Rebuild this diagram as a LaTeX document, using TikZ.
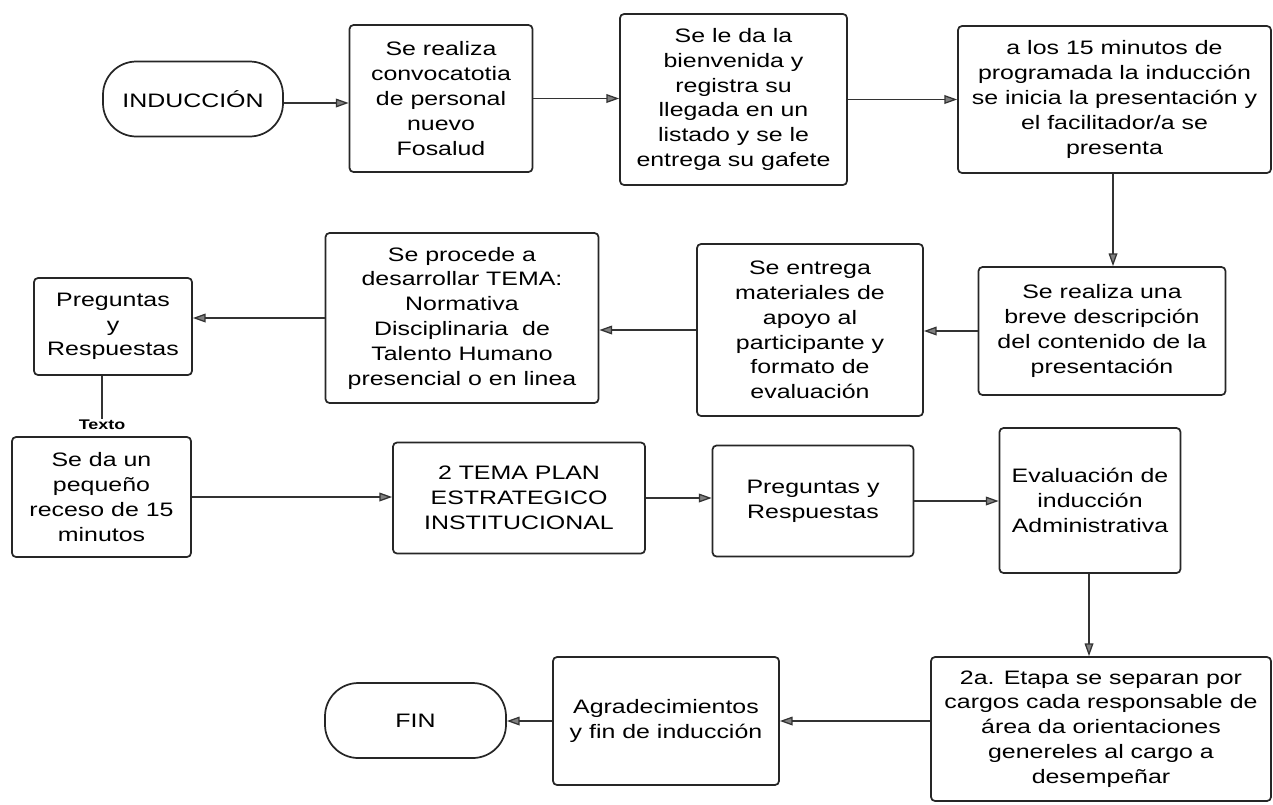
\documentclass[tikz,border=0pt]{standalone}
\usepackage{fontspec}
\setmainfont{Liberation Sans}[FakeStretch=1.28]
\usetikzlibrary{arrows.meta}

\tikzset{
  paso/.style={draw=black!85, line width=1.3pt, rounded corners=3pt, align=center, inner sep=2pt, font=\fontsize{14.6}{18.6}\selectfont},
  termino/.style={draw=black!85, line width=1.3pt, rounded corners=25pt, align=center, inner sep=2pt, font=\fontsize{14.6}{18.6}\selectfont},
  flecha/.style={draw=black!80, line width=0.95pt, -{Triangle[length=9.5pt,width=6.5pt,fill=black!50]}},
}

\begin{document}
\begin{tikzpicture}[x=0.75pt,y=0.75pt,yscale=-1]
\useasboundingbox (0,0) rectangle (1273,804);

% Row 1
\node [termino, minimum width=135pt, minimum height=56.25pt] (inicio) at (193,99) {INDUCCIÓN};
\node [paso, minimum width=137.25pt, minimum height=110.25pt] (conv) at (441,98.5) {Se realiza\\convocatotia\\de personal\\nuevo\\Fosalud};
\node [paso, minimum width=170.25pt, minimum height=128.25pt] (bienv) at (733.5,99.5) {Se le da la\\bienvenida y\\registra su\\llegada en un\\listado y se le\\entrega su gafete};
\node [paso, minimum width=234.75pt, minimum height=110.25pt] (facil) at (1114.5,99.5) {a los 15 minutos de\\programada la inducción\\se inicia la presentación y\\el facilitador/a se\\presenta};

% Row 2
\node [paso, minimum width=185.25pt, minimum height=96pt] (descr) at (1102,331) {Se realiza una\\breve descripción\\del contenido de la\\presentación};
\node [paso, minimum width=169.5pt, minimum height=129pt] (mater) at (810,330) {Se entrega\\materiales de\\apoyo al\\participante y\\formato de\\evaluación};
\node [paso, minimum width=204.75pt, minimum height=127.5pt] (norma) at (462,318) {Se procede a\\desarrollar TEMA:\\Normativa\\Disciplinaria\ \ de\\Talento Humano\\presencial o en linea};
\node [paso, minimum width=118.5pt, minimum height=72.75pt] (pregA) at (113,326.5) {Preguntas\\y\\Respuestas};
% Text Node
\node [font=\bfseries\fontsize{10.5}{12}\selectfont, inner sep=1pt] (texto) at (102,425) {Texto};

% Row 3
\node [paso, minimum width=134.25pt, minimum height=90pt] (receso) at (101.5,497) {Se da un\\pequeño\\receso de 15\\minutos};
\node [paso, minimum width=189pt, minimum height=83.25pt] (plan) at (519,498) {2 TEMA PLAN\\ESTRATEGICO\\INSTITUCIONAL};
\node [paso, minimum width=150.75pt, minimum height=83.25pt] (pregB) at (813,501) {Preguntas y\\Respuestas};
\node [paso, minimum width=135.75pt, minimum height=108.75pt] (evalu) at (1090,500.5) {Evaluación de\\inducción\\Administrativa};

% Row 4
\node [paso, minimum width=255pt, minimum height=108pt] (etapa) at (1101,729) {2a. Etapa se separan por\\cargos cada responsable de\\área da orientaciones\\genereles al cargo a\\desempeñar};
\node [paso, minimum width=169.5pt, minimum height=96pt] (agrad) at (666,721) {Agradecimientos\\y fin de inducción};
\node [termino, minimum width=135.75pt, minimum height=56.25pt] (fin) at (415.5,720.5) {FIN};

% Connectors
\draw [flecha] ([yshift=3pt]inicio.east) -- ([yshift=3pt]inicio.east -| conv.west);
\draw [flecha] (conv.east) -- (conv.east -| bienv.west);
\draw [flecha] (bienv.east) -- (bienv.east -| facil.west);
\draw [flecha] (facil.south -| 1113,0) -- (descr.north -| 1113,0);
\draw [flecha] (descr.west) -- (descr.west -| mater.east);
\draw [flecha] (mater.west) -- (mater.west -| norma.east);
\draw [flecha] (norma.west) -- (norma.west -| pregA.east);
\draw [draw=black!80, line width=0.95pt] (pregA.south -| texto.north) -- (texto.north);
\draw [flecha] (receso.east) -- (receso.east -| plan.west);
\draw [flecha] (plan.east) -- (plan.east -| pregB.west);
\draw [flecha] (pregB.east) -- (pregB.east -| evalu.west);
\draw [flecha] (evalu.south -| 1089,0) -- (etapa.north -| 1089,0);
\draw [flecha] (agrad.east -| etapa.west) -- (agrad.east);
\draw [flecha] (agrad.west) -- (agrad.west -| fin.east);

\end{tikzpicture}
\end{document}
